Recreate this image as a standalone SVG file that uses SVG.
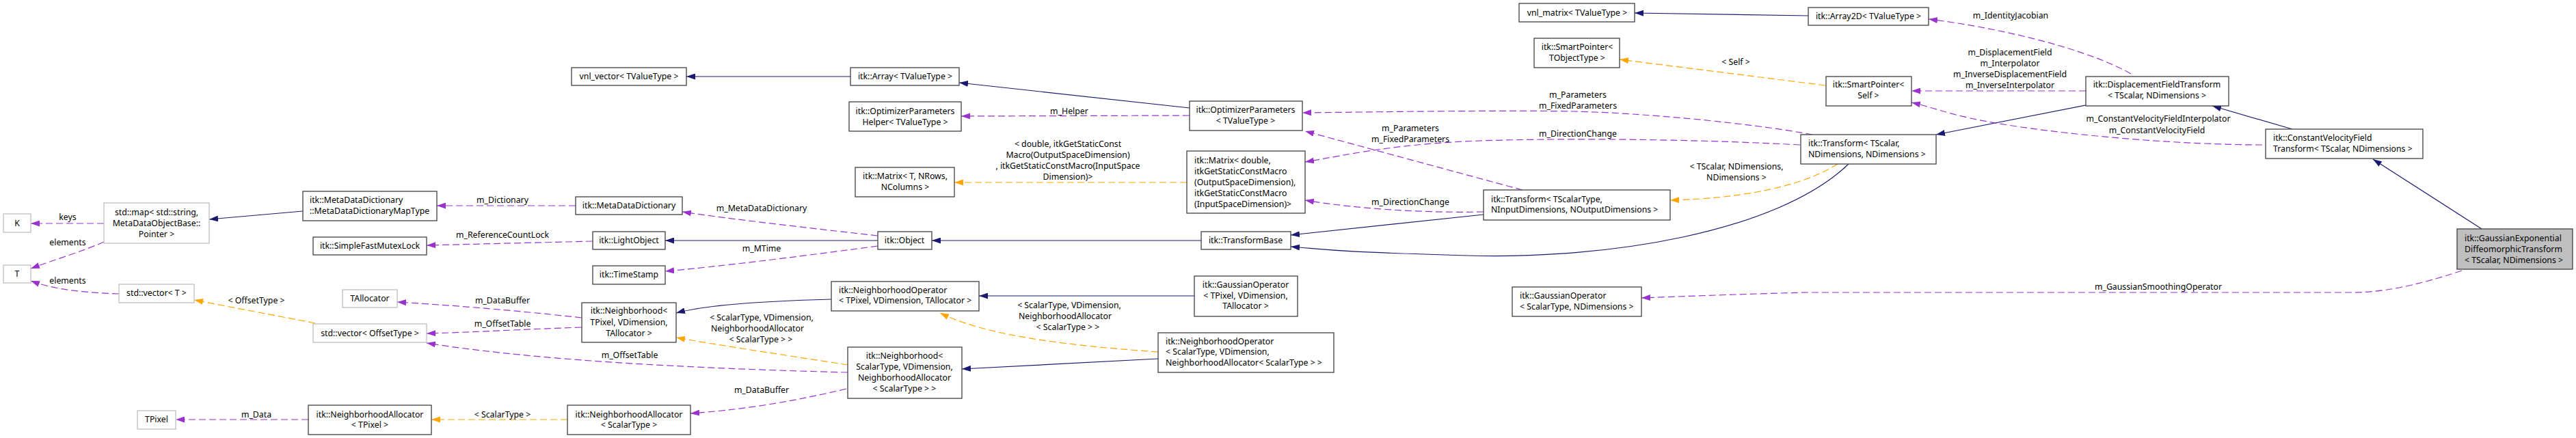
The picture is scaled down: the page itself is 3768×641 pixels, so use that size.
<svg xmlns="http://www.w3.org/2000/svg" width="3768" height="641" viewBox="0 0 3768 641">
<defs>
<style>
text{font-family:"Noto Sans","DejaVu Sans",sans-serif;font-size:12.3px;fill:#000}
.n rect{fill:#fff;stroke:#404040;stroke-width:1.3}
.u rect{fill:#fff;stroke:#bfbfbf;stroke-width:1.3}
.m rect{fill:#bfbfbf;stroke:#404040;stroke-width:1.3}
.c{text-anchor:middle}
.e path{fill:none;stroke-width:1.2}
.e .inh{stroke:#191970;marker-end:url(#aN)}
.e .use{stroke:#9a32cd;stroke-dasharray:10,5;marker-end:url(#aP)}
.e .tpl{stroke:#ffa500;stroke-dasharray:10,5;marker-end:url(#aO)}
.e text{text-anchor:middle}
</style>
<marker id="aN" markerUnits="userSpaceOnUse" viewBox="0 0 13 9" markerWidth="13" markerHeight="9" refX="13" refY="4.5" orient="auto"><path d="M0,0L13,4.5L0,9z" fill="#191970" stroke="none"/></marker>
<marker id="aP" markerUnits="userSpaceOnUse" viewBox="0 0 13 9" markerWidth="13" markerHeight="9" refX="13" refY="4.5" orient="auto"><path d="M0,0L13,4.5L0,9z" fill="#9a32cd" stroke="none"/></marker>
<marker id="aO" markerUnits="userSpaceOnUse" viewBox="0 0 13 9" markerWidth="13" markerHeight="9" refX="13" refY="4.5" orient="auto"><path d="M0,0L13,4.5L0,9z" fill="#ffa500" stroke="none"/></marker>
</defs>
<rect width="3768" height="641" fill="#fff"/>

<g id="connectors" class="e">
<path class="use" d="M152,327L45,327"/><text x="99" y="322">keys</text>
<path class="use" d="M152,354C120,368 80,380 45,393"/><text x="99" y="359">elements</text>
<path class="use" d="M174,430C120,428 80,424 45,411"/><text x="99" y="415">elements</text>
<path class="tpl" d="M461,473L284,439"/><text x="375" y="444">&lt; OffsetType &gt;</text>
<path class="inh" d="M443,309L306,321"/>
<path class="use" d="M842,301L639,301"/><text x="735" y="297">m_Dictionary</text>
<path class="use" d="M867,353L624,359"/><text x="735" y="348">m_ReferenceCountLock</text>
<path class="use" d="M851,465C760,455 680,448 581,442"/><text x="735" y="444">m_DataBuffer</text>
<path class="use" d="M851,479C760,482 700,486 624,488"/><text x="735" y="478">m_OffsetTable</text>
<path class="use" d="M1240,545C1050,540 800,530 624,502"/><text x="921" y="524">m_OffsetTable</text>
<path class="use" d="M451,614L257,614"/><text x="375" y="611">m_Data</text>
<path class="tpl" d="M830,614L631,614"/><text x="735" y="611">&lt; ScalarType &gt;</text>
<path class="use" d="M1238,569C1150,590 1080,600 1010,605"/><text x="1114" y="575">m_DataBuffer</text>
<path class="inh" d="M1284,352L973,352"/>
<path class="use" d="M1284,360C1150,378 1050,390 973,397"/><text x="1114" y="368">m_MTime</text>
<path class="use" d="M1284,345C1150,330 1050,318 998,310"/><text x="1114" y="309">m_MetaDataDictionary</text>
<path class="inh" d="M1244,112L1004,112"/>
<path class="inh" d="M1740,158L1403,121"/>
<path class="use" d="M1740,169L1406,170"/><text x="1564" y="167">m_Helper</text>
<path class="tpl" d="M1736,267L1396,267"/>
<text x="1562" y="215">&lt; double, itkGetStaticConst</text>
<text x="1562" y="231">Macro(OutputSpaceDimension)</text>
<text x="1562" y="247">, itkGetStaticConstMacro(InputSpace</text>
<text x="1562" y="263">Dimension)&gt;</text>
<path class="inh" d="M1216,438C1100,441 1030,447 989,458"/>
<path class="tpl" d="M1240,534C1150,520 1050,505 989,494"/>
<text x="1114" y="469">&lt; ScalarType, VDimension,</text>
<text x="1108" y="485">NeighborhoodAllocator</text>
<text x="1113" y="501">&lt; ScalarType &gt; &gt;</text>
<path class="inh" d="M1757,352L1363,352"/>
<path class="inh" d="M1747,433L1432,433"/>
<path class="tpl" d="M1694,515C1550,505 1440,490 1375,458"/>
<text x="1564" y="451">&lt; ScalarType, VDimension,</text>
<text x="1558" y="467">NeighborhoodAllocator</text>
<text x="1562" y="483">&lt; ScalarType &gt; &gt;</text>
<path class="inh" d="M1694,525L1407,540"/>
<path class="inh" d="M2170,314L1888,344"/>
<path class="inh" d="M2704,240C2600,340 2350,380 2146,374S1950,366 1888,361"/>
<path class="tpl" d="M2688,240C2640,270 2560,290 2443,293"/>
<text x="2540" y="248">&lt; TScalar, NDimensions,</text>
<text x="2540" y="264">NDimensions &gt;</text>
<path class="use" d="M2651,197C2560,180 2400,165 2300,163S2000,164 1905,165"/>
<text x="2308" y="143">m_Parameters</text>
<text x="2308" y="159">m_FixedParameters</text>
<path class="use" d="M2633,212C2500,205 2350,202 2200,205S1980,225 1909,237"/>
<text x="2308" y="200">m_DirectionChange</text>
<path class="use" d="M2227,278L1909,192"/>
<text x="2063" y="192">m_Parameters</text>
<text x="2063" y="208">m_FixedParameters</text>
<path class="use" d="M2170,310C2080,312 1980,305 1909,293"/>
<text x="2063" y="300">m_DirectionChange</text>
<path class="inh" d="M2645,23L2391,19"/>
<path class="tpl" d="M2670,125L2369,87"/><text x="2539" y="95">&lt; Self &gt;</text>
<path class="use" d="M3117,108C3050,70 2920,40 2821,28"/><text x="2941" y="27">m_IdentityJacobian</text>
<path class="use" d="M3051,133L2796,133"/>
<text x="2940" y="81">m_DisplacementField</text>
<text x="2940" y="97">m_Interpolator</text>
<text x="2940" y="113">m_InverseDisplacementField</text>
<text x="2940" y="129">m_InverseInterpolator</text>
<path class="inh" d="M3051,154L2832,197"/>
<path class="use" d="M3309,212C3200,212 3050,200 2950,185S2840,160 2796,150"/>
<text x="3157" y="178">m_ConstantVelocityFieldInterpolator</text>
<text x="3155" y="195">m_ConstantVelocityField</text>
<path class="inh" d="M3353,189L3236,155"/>
<path class="inh" d="M3630,335L3471,233"/>
<path class="use" d="M3601,396C3530,420 3480,428 3441,428L2643,428C2560,430 2480,433 2401,436"/>
<text x="3157" y="424">m_GaussianSmoothingOperator</text>
</g>

<g id="K" class="u"><rect x="5" y="313" width="40" height="27"/><text class="c" x="25" y="331">K</text></g>
<g id="T" class="u"><rect x="5" y="388" width="40" height="26"/><text class="c" x="25" y="405">T</text></g>
<g id="stdmap" class="u"><rect x="152" y="297" width="154" height="59"/><text class="c" x="229" y="315">std::map&lt; std::string,</text><text class="c" x="229" y="331">MetaDataObjectBase::</text><text class="c" x="229" y="347">Pointer &gt;</text></g>
<g id="vectorT" class="u"><rect x="174" y="416" width="110" height="27"/><text class="c" x="229" y="433">std::vector&lt; T &gt;</text></g>
<g id="TAllocator" class="u"><rect x="501" y="424" width="80" height="26"/><text class="c" x="541" y="441">TAllocator</text></g>
<g id="vectorOffset" class="u"><rect x="458" y="474" width="166" height="27"/><text class="c" x="541" y="492">std::vector&lt; OffsetType &gt;</text></g>
<g id="TPixel" class="u"><rect x="201" y="601" width="56" height="27"/><text class="c" x="229" y="618">TPixel</text></g>
<g id="MapType" class="n"><rect x="443" y="280" width="196" height="43"/><text x="453" y="297">itk::MetaDataDictionary</text><text x="453" y="313">::MetaDataDictionaryMapType</text></g>
<g id="MutexLock" class="n"><rect x="458" y="347" width="166" height="26"/><text class="c" x="541" y="364">itk::SimpleFastMutexLock</text></g>
<g id="NAllocTPixel" class="n"><rect x="451" y="593" width="180" height="43"/><text class="c" x="541" y="611">itk::NeighborhoodAllocator</text><text class="c" x="541" y="626">&lt; TPixel &gt;</text></g>
<g id="vnlVector" class="n"><rect x="836" y="99" width="168" height="26"/><text class="c" x="920" y="116">vnl_vector&lt; TValueType &gt;</text></g>
<g id="MetaDataDictionary" class="n"><rect x="842" y="288" width="156" height="26"/><text class="c" x="920" y="305">itk::MetaDataDictionary</text></g>
<g id="LightObject" class="n"><rect x="867" y="339" width="106" height="26"/><text class="c" x="920" y="356">itk::LightObject</text></g>
<g id="TimeStamp" class="n"><rect x="867" y="389" width="106" height="27"/><text class="c" x="920" y="406">itk::TimeStamp</text></g>
<g id="NbTPixel" class="n"><rect x="851" y="443" width="138" height="58"/><text class="c" x="920" y="459">itk::Neighborhood&lt;</text><text class="c" x="920" y="476">TPixel, VDimension,</text><text class="c" x="920" y="492">TAllocator &gt;</text></g>
<g id="NAllocScalar" class="n"><rect x="830" y="593" width="180" height="43"/><text class="c" x="920" y="611">itk::NeighborhoodAllocator</text><text class="c" x="920" y="626">&lt; ScalarType &gt;</text></g>
<g id="Array" class="n"><rect x="1244" y="99" width="159" height="26"/><text class="c" x="1324" y="116">itk::Array&lt; TValueType &gt;</text></g>
<g id="OptHelper" class="n"><rect x="1242" y="149" width="164" height="43"/><text class="c" x="1324" y="167">itk::OptimizerParameters</text><text class="c" x="1324" y="183">Helper&lt; TValueType &gt;</text></g>
<g id="MatrixT" class="n"><rect x="1251" y="245" width="145" height="43"/><text class="c" x="1324" y="262">itk::Matrix&lt; T, NRows,</text><text class="c" x="1324" y="278">NColumns &gt;</text></g>
<g id="Object" class="n"><rect x="1284" y="339" width="79" height="26"/><text class="c" x="1323" y="356">itk::Object</text></g>
<g id="NbOpTPixel" class="n"><rect x="1216" y="412" width="216" height="43"/><text x="1227" y="429">itk::NeighborhoodOperator</text><text x="1227" y="444">&lt; TPixel, VDimension, TAllocator &gt;</text></g>
<g id="NbScalar" class="n"><rect x="1240" y="508" width="167" height="75"/><text class="c" x="1323" y="525">itk::Neighborhood&lt;</text><text class="c" x="1323" y="541">ScalarType, VDimension,</text><text class="c" x="1323" y="557">NeighborhoodAllocator</text><text class="c" x="1323" y="573">&lt; ScalarType &gt; &gt;</text></g>
<g id="OptParams" class="n"><rect x="1740" y="148" width="165" height="43"/><text class="c" x="1822" y="165">itk::OptimizerParameters</text><text class="c" x="1822" y="181">&lt; TValueType &gt;</text></g>
<g id="MatrixDouble" class="n"><rect x="1736" y="221" width="173" height="91"/><text x="1747" y="239">itk::Matrix&lt; double,</text><text x="1747" y="255">itkGetStaticConstMacro</text><text x="1747" y="271">(OutputSpaceDimension),</text><text x="1747" y="287">itkGetStaticConstMacro</text><text x="1747" y="303">(InputSpaceDimension)&gt;</text></g>
<g id="TransformBase" class="n"><rect x="1757" y="339" width="131" height="26"/><text class="c" x="1822" y="356">itk::TransformBase</text></g>
<g id="GaussTPixel" class="n"><rect x="1747" y="404" width="151" height="59"/><text class="c" x="1822" y="421">itk::GaussianOperator</text><text class="c" x="1822" y="437">&lt; TPixel, VDimension,</text><text class="c" x="1822" y="452">TAllocator &gt;</text></g>
<g id="NbOpScalar" class="n"><rect x="1694" y="487" width="257" height="58"/><text x="1705" y="504">itk::NeighborhoodOperator</text><text x="1705" y="519">&lt; ScalarType, VDimension,</text><text x="1705" y="535"> NeighborhoodAllocator&lt; ScalarType &gt; &gt;</text></g>
<g id="vnlMatrix" class="n"><rect x="2222" y="5" width="169" height="27"/><text class="c" x="2307" y="23">vnl_matrix&lt; TValueType &gt;</text></g>
<g id="SmartPtrTObj" class="n"><rect x="2244" y="56" width="125" height="43"/><text class="c" x="2307" y="73">itk::SmartPointer&lt;</text><text class="c" x="2307" y="89">TObjectType &gt;</text></g>
<g id="TransformGeneric" class="n"><rect x="2170" y="278" width="273" height="44"/><text x="2181" y="296">itk::Transform&lt; TScalarType,</text><text x="2181" y="311"> NInputDimensions, NOutputDimensions &gt;</text></g>
<g id="GaussScalar" class="n"><rect x="2212" y="420" width="189" height="43"/><text x="2223" y="437">itk::GaussianOperator</text><text x="2223" y="453">&lt; ScalarType, NDimensions &gt;</text></g>
<g id="Array2D" class="n"><rect x="2645" y="11" width="176" height="26"/><text class="c" x="2733" y="28">itk::Array2D&lt; TValueType &gt;</text></g>
<g id="SmartPtrSelf" class="n"><rect x="2671" y="112" width="125" height="43"/><text class="c" x="2733" y="128">itk::SmartPointer&lt;</text><text class="c" x="2733" y="144">Self &gt;</text></g>
<g id="TransformND" class="n"><rect x="2634" y="197" width="198" height="43"/><text x="2645" y="214">itk::Transform&lt; TScalar,</text><text x="2645" y="230"> NDimensions, NDimensions &gt;</text></g>
<g id="DisplacementFieldTransform" class="n"><rect x="3051" y="112" width="209" height="43"/><text class="c" x="3155" y="128">itk::DisplacementFieldTransform</text><text class="c" x="3155" y="144">&lt; TScalar, NDimensions &gt;</text></g>
<g id="ConstantVelocityFieldTransform" class="n"><rect x="3314" y="189" width="230" height="43"/><text x="3325" y="206">itk::ConstantVelocityField</text><text x="3325" y="222">Transform&lt; TScalar, NDimensions &gt;</text></g>
<g id="GaussianExponentialDiffeomorphicTransform" class="m"><rect x="3594" y="335" width="169" height="59"/><text x="3605" y="353">itk::GaussianExponential</text><text x="3605" y="369">DiffeomorphicTransform</text><text x="3605" y="385">&lt; TScalar, NDimensions &gt;</text></g>
</svg>
